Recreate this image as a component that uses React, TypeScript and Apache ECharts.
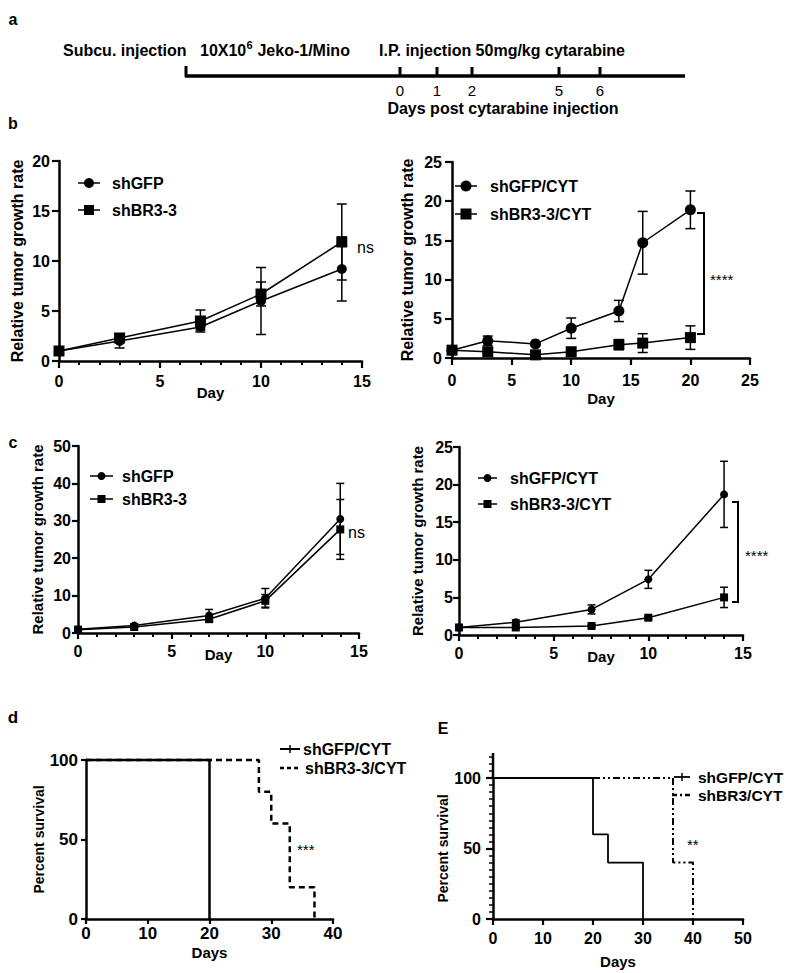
import React, { useEffect, useRef } from "react";
import * as echarts from "echarts";

const FONT = '"Liberation Sans", Arial, Helvetica, sans-serif';

// ---------- data ----------
const timelineDays = ["0", "1", "2", "5", "6"];

const bLeftDays = [0, 3, 7, 10, 14];
const bLeftGFP = [1, 2.0, 3.4, 6.0, 9.2];
const bLeftGFPsd = [0, 0.7, 0.3, 3.35, 3.2];
const bLeftBR3 = [1, 2.3, 4.0, 6.7, 11.9];
const bLeftBR3sd = [0, 0.4, 1.1, 1.2, 3.8];

const bRightDays = [0, 3, 7, 10, 14, 16, 20];
const bRightGFP = [1, 2.2, 1.8, 3.8, 6.0, 14.7, 18.9];
const bRightGFPsd = [0, 0.6, 0.2, 1.3, 1.35, 4.0, 2.4];
const bRightBR3 = [1, 0.8, 0.4, 0.8, 1.7, 1.9, 2.6];
const bRightBR3sd = [0, 0.2, 0.1, 0.2, 0.65, 1.2, 1.5];

const cDays = [0, 3, 7, 10, 14];
const cLeftGFP = [1, 2.0, 4.7, 9.3, 30.5];
const cLeftGFPsd = [0, 0.4, 1.6, 2.6, 9.5];
const cLeftBR3 = [0.9, 1.6, 3.7, 8.6, 27.7];
const cLeftBR3sd = [0, 0.3, 0.6, 1.7, 8.0];

const cRightGFP = [1, 1.7, 3.4, 7.4, 18.7];
const cRightGFPsd = [0, 0.3, 0.6, 1.2, 4.4];
const cRightBR3 = [1, 1.0, 1.2, 2.3, 5.0];
const cRightBR3sd = [0, 0.1, 0.15, 0.2, 1.35];

const dGFPDays = [0, 20];
const dGFPSurv = [100, 0];
const dBR3Days = [0, 28, 30, 33, 37];
const dBR3Surv = [100, 80, 60, 20, 0];

const eGFPDays = [0, 20, 23, 30];
const eGFPSurv = [100, 60, 40, 0];
const eBR3Days = [0, 36, 40];
const eBR3Surv = [100, 40, 0];

// ---------- helpers ----------
const pairs = (xs: number[], ys: number[]) => xs.map((x, i) => [x, ys[i]]);

const lineSeries = (idx: number, days: number[], vals: number[], symbol: string, size: number) => ({
  type: "line",
  xAxisIndex: idx,
  yAxisIndex: idx,
  data: pairs(days, vals),
  symbol,
  symbolSize: size,
  showSymbol: true,
  showAllSymbol: true,
  itemStyle: { color: "#000" },
  lineStyle: { color: "#000", width: 1.5 },
  z: 3,
  silent: true,
  clip: false,
});

const errorSeries = (idx: number, days: number[], vals: number[], sds: number[], cap: number) => ({
  type: "custom",
  xAxisIndex: idx,
  yAxisIndex: idx,
  data: days
    .map((d, i) => [d, vals[i] - sds[i], vals[i] + sds[i], sds[i]])
    .filter((r) => r[3] > 0),
  encode: { x: 0, y: [1, 2] },
  z: 1,
  silent: true,
  clip: false,
  renderItem: (_p: any, api: any) => {
    const x = api.value(0);
    const lo = api.coord([x, api.value(1)]);
    const hi = api.coord([x, api.value(2)]);
    const h = cap / 2;
    const style = { stroke: "#000", lineWidth: 1.5 };
    return {
      type: "group",
      children: [
        { type: "line", shape: { x1: lo[0], y1: lo[1], x2: hi[0], y2: hi[1] }, style },
        { type: "line", shape: { x1: hi[0] - h, y1: hi[1], x2: hi[0] + h, y2: hi[1] }, style },
        { type: "line", shape: { x1: lo[0] - h, y1: lo[1], x2: lo[0] + h, y2: lo[1] }, style },
      ],
    };
  },
});

const survSeries = (idx: number, days: number[], surv: number[], type: any, width: number) => ({
  type: "line",
  xAxisIndex: idx,
  yAxisIndex: idx,
  data: pairs(days, surv),
  step: "end",
  symbol: "none",
  lineStyle: { color: "#000", width, type },
  z: 3,
  silent: true,
  clip: false,
});

const axisBase = (o: any) => {
  const tickLen = o.tickLen ?? 7;
  return {
    type: "value",
    show: true,
    gridIndex: o.grid,
    min: o.min,
    max: o.max,
    interval: o.interval,
    name: o.name,
    nameLocation: "middle",
    nameGap: o.nameGap,
    ...(o.noMove ? { nameMoveOverlap: false } : {}),
    nameTextStyle: { color: "#000", fontSize: o.nameSize ?? 15, fontWeight: "bold", fontFamily: FONT },
    axisLine: { show: true, onZero: false, lineStyle: { color: "#000", width: 2.5 } },
    axisTick: { show: true, length: tickLen, lineStyle: { color: "#000", width: o.tickWidth ?? 2.2 } },
    minorTick: o.minor
      ? { show: true, splitNumber: o.minor, length: o.minorLen ?? 4, lineStyle: { color: "#000", width: o.minorWidth ?? 2 } }
      : { show: false },
    axisLabel: {
      color: "#000",
      fontSize: o.labelSize ?? 16,
      fontWeight: "bold",
      fontFamily: FONT,
      margin: o.margin,
      ...(o.labelExtra || {}),
    },
    splitLine: { show: false },
    minorSplitLine: { show: false },
  };
};

const txt = (x: number, y: number, text: string, size: number, weight: string, align = "left", extra: any = {}) => ({
  type: "text",
  x,
  y,
  z: 50,
  silent: true,
  style: {
    text,
    fill: "#000",
    fontSize: size,
    fontWeight: weight,
    fontFamily: FONT,
    align,
    verticalAlign: "middle",
    ...extra,
  },
});

const ln = (x1: number, y1: number, x2: number, y2: number, w = 2, dash?: number[]) => ({
  type: "line",
  z: 50,
  silent: true,
  shape: { x1, y1, x2, y2 },
  style: { stroke: "#000", lineWidth: w, ...(dash ? { lineDash: dash } : {}) },
});

const markerLegend = (x1: number, x2: number, y: number, marker: "circle" | "rect", sz: number, text: string, tx: number) => {
  const cx = (x1 + x2) / 2;
  const m =
    marker === "circle"
      ? { type: "circle", z: 51, silent: true, shape: { cx, cy: y, r: sz / 2 }, style: { fill: "#000" } }
      : { type: "rect", z: 51, silent: true, shape: { x: cx - sz / 2, y: y - sz / 2, width: sz, height: sz }, style: { fill: "#000" } };
  return [ln(x1, y, x2, y, 1.5), m, txt(tx, y, text, 16, "bold")];
};

const timelineTickX = [400, 437, 472, 559, 600];

// ---------- option ----------
const option: any = {
  animation: false,
  backgroundColor: "#fff",
  grid: [
    { left: 59, top: 161, width: 303, height: 200 },
    { left: 452, top: 162, width: 298, height: 196 },
    { left: 78, top: 446, width: 281, height: 187 },
    { left: 459, top: 447, width: 284, height: 188 },
    { left: 86, top: 760, width: 247, height: 159 },
    { left: 493, top: 778, width: 250, height: 141 },
  ],
  xAxis: [
    axisBase({ grid: 0, min: 0, max: 15, interval: 5, minor: 5, name: "Day", nameGap: 24, margin: 12, noMove: true }),
    axisBase({ grid: 1, min: 0, max: 25, interval: 5, name: "Day", nameGap: 33, margin: 14, noMove: true }),
    axisBase({ grid: 2, min: 0, max: 15, interval: 5, minor: 5, tickLen: 6, name: "Day", nameGap: 14, margin: 10, noMove: true }),
    axisBase({ grid: 3, min: 0, max: 15, interval: 5, minor: 5, tickLen: 6, name: "Day", nameGap: 14, margin: 10, noMove: true }),
    axisBase({ grid: 4, min: 0, max: 40, interval: 10, tickLen: 5, name: "Days", nameGap: 26, margin: 6, labelSize: 17, noMove: true }),
    axisBase({ grid: 5, min: 0, max: 50, interval: 10, tickLen: 6, name: "Days", nameGap: 35, margin: 11, noMove: true }),
  ],
  yAxis: [
    axisBase({ grid: 0, min: 0, max: 20, interval: 5, name: "Relative tumor growth rate", nameGap: 34, margin: 9, nameSize: 16 }),
    axisBase({ grid: 1, min: 0, max: 25, interval: 5, name: "Relative tumor growth rate", nameGap: 37, margin: 10, nameSize: 16 }),
    axisBase({ grid: 2, min: 0, max: 50, interval: 10, tickLen: 6, name: "Relative tumor growth rate", nameGap: 33, margin: 7 }),
    axisBase({ grid: 3, min: 0, max: 25, interval: 5, tickLen: 6, name: "Relative tumor growth rate", nameGap: 34, margin: 6 }),
    axisBase({ grid: 4, min: 0, max: 100, interval: 50, tickLen: 5, name: "Percent survival", nameGap: 33, margin: 8, nameSize: 14, labelSize: 17 }),
    axisBase({
      grid: 5, min: 0, max: 100, interval: 50, tickLen: 7, minor: 10, minorLen: 4, minorWidth: 1.5,
      name: "Percent survival", nameGap: 40, margin: 12, nameSize: 14,
    }),
  ],
  series: [
    errorSeries(0, bLeftDays, bLeftGFP, bLeftGFPsd, 10),
    errorSeries(0, bLeftDays, bLeftBR3, bLeftBR3sd, 10),
    lineSeries(0, bLeftDays, bLeftGFP, "circle", 10),
    lineSeries(0, bLeftDays, bLeftBR3, "rect", 11),

    errorSeries(1, bRightDays, bRightGFP, bRightGFPsd, 10),
    errorSeries(1, bRightDays, bRightBR3, bRightBR3sd, 10),
    lineSeries(1, bRightDays, bRightGFP, "circle", 11),
    lineSeries(1, bRightDays, bRightBR3, "rect", 11),

    errorSeries(2, cDays, cLeftGFP, cLeftGFPsd, 8),
    errorSeries(2, cDays, cLeftBR3, cLeftBR3sd, 8),
    lineSeries(2, cDays, cLeftGFP, "circle", 8),
    lineSeries(2, cDays, cLeftBR3, "rect", 8),

    errorSeries(3, cDays, cRightGFP, cRightGFPsd, 8),
    errorSeries(3, cDays, cRightBR3, cRightBR3sd, 8),
    lineSeries(3, cDays, cRightGFP, "circle", 8),
    lineSeries(3, cDays, cRightBR3, "rect", 8),

    survSeries(4, dBR3Days, dBR3Surv, [6, 4], 2.5),
    survSeries(4, dGFPDays, dGFPSurv, "solid", 2.5),

    survSeries(5, eBR3Days, eBR3Surv, [7, 3, 2, 3, 2, 3], 2),
    survSeries(5, eGFPDays, eGFPSurv, "solid", 1.8),
  ],
  graphic: [
    // panel labels
    txt(13, 19, "a", 16, "bold", "center"),
    txt(13, 123, "b", 16, "bold", "center"),
    txt(13, 442, "c", 16, "bold", "center"),
    txt(13, 717, "d", 17, "bold", "center"),
    txt(443, 728, "E", 16, "bold", "center"),

    // panel a timeline
    txt(63, 50, "Subcu. injection", 16, "bold"),
    txt(200, 50, "10X10", 16, "bold"),
    txt(246.5, 45, "6", 11, "bold"),
    txt(253, 50, " Jeko-1/Mino", 16, "bold"),
    txt(379, 50, "I.P. injection 50mg/kg cytarabine", 16, "bold"),
    ln(185, 76, 685, 76, 3.5),
    ln(186, 66, 186, 77, 3),
    ...timelineTickX.map((x) => ln(x, 67, x, 77, 3)),
    ...timelineDays.map((d, i) => txt(timelineTickX[i], 90, d, 15, "normal", "center")),
    txt(503, 108, "Days post cytarabine injection", 16, "bold", "center"),

    // panel E: y axis continues above 100
    ln(493, 753, 493, 779, 2.5),
    ln(489, 757, 493, 757, 1.5),
    ln(489, 764, 493, 764, 1.5),
    ln(489, 771, 493, 771, 1.5),

    // legends b
    ...markerLegend(78, 100, 183, "circle", 10, "shGFP", 112),
    ...markerLegend(78, 100, 210, "rect", 10, "shBR3-3", 112),
    ...markerLegend(455, 477, 186, "circle", 11, "shGFP/CYT", 490),
    ...markerLegend(455, 477, 214, "rect", 11, "shBR3-3/CYT", 490),
    // legends c
    ...markerLegend(90, 113, 476, "circle", 8, "shGFP", 122),
    ...markerLegend(90, 113, 499, "rect", 8, "shBR3-3", 122),
    ...markerLegend(478, 497, 478, "circle", 8, "shGFP/CYT", 510),
    ...markerLegend(478, 497, 504, "rect", 8, "shBR3-3/CYT", 510),
    // legend d
    ln(280, 749, 300, 749, 2),
    ln(290, 745, 290, 753, 1.5),
    txt(303, 749, "shGFP/CYT", 16, "bold"),
    ln(280, 768, 300, 768, 2.5, [4, 3]),
    txt(305, 768, "shBR3-3/CYT", 16, "bold"),
    // legend E
    ln(674, 777, 690, 777, 1.8),
    ln(682, 773, 682, 781, 1.5),
    txt(698, 777, "shGFP/CYT", 15.5, "bold"),
    ln(672, 795, 692, 795, 2.5, [5, 3, 2, 3]),
    txt(698, 795, "shBR3/CYT", 15.5, "bold"),

    // significance annotations
    txt(357, 247, "ns", 16, "normal"),
    txt(348, 532, "ns", 16, "normal"),
    {
      type: "polyline",
      z: 50,
      silent: true,
      shape: { points: [[697, 213], [704, 213], [704, 334], [697, 334]] },
      style: { stroke: "#000", lineWidth: 2, fill: null },
    },
    txt(710, 279, "****", 15, "normal"),
    {
      type: "polyline",
      z: 50,
      silent: true,
      shape: { points: [[732, 502], [738, 502], [738, 602], [732, 602]] },
      style: { stroke: "#000", lineWidth: 2, fill: null },
    },
    txt(745, 555, "****", 15, "normal"),
    txt(297, 849, "***", 15, "normal"),
    txt(687, 844, "**", 15, "normal"),
  ],
};

export default function App() {
  const ref = useRef<HTMLDivElement>(null);
  useEffect(() => {
    const chart = echarts.init(ref.current as HTMLDivElement, null, { renderer: "svg" });
    chart.setOption(option);
    return () => chart.dispose();
  }, []);
  return (
    <div
      ref={ref}
      style={{ position: "absolute", left: 0, top: 0, width: 800, height: 973, background: "#fff" }}
    />
  );
}
